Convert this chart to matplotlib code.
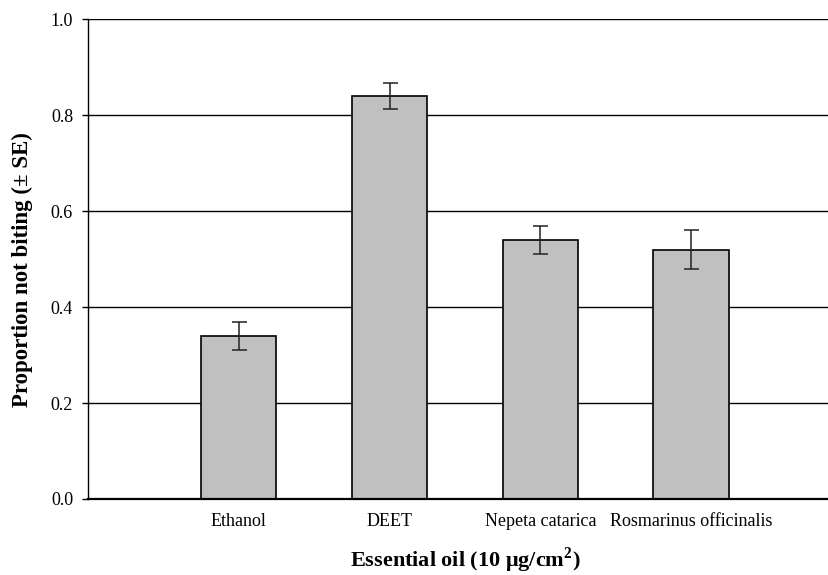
import matplotlib.pyplot as plt

# data
oils = ["Ethanol", "DEET", "Nepeta catarica", "Rosmarinus officinalis"]
proportion = [0.34, 0.84, 0.54, 0.52]
se = [0.03, 0.027, 0.03, 0.04]
yticks = [0.0, 0.2, 0.4, 0.6, 0.8, 1.0]

plt.rcParams["font.family"] = ["Liberation Serif", "DejaVu Serif"]
plt.rcParams["mathtext.fontset"] = "custom"
plt.rcParams["mathtext.rm"] = "Liberation Serif"
plt.rcParams["mathtext.bf"] = "Liberation Serif:bold"

fig = plt.figure(figsize=(8.29, 5.75), dpi=100)
ax = fig.add_axes([0.1062, 0.1322, 0.8938, 0.8339])

x = list(range(1, len(oils) + 1))

# gridlines behind bars
for v in yticks[1:]:
  ax.axhline(v, color="black", lw=1, zorder=0)

ax.bar(x, proportion, width=0.5, color="#c0c0c0", edgecolor="black", lw=1.2, zorder=2)
ax.errorbar(x, proportion, yerr=se, fmt="none", ecolor="#222222", elinewidth=1.1,
            capsize=5.4, capthick=1.1, zorder=3)

ax.set_xlim(0, 4.915)
ax.set_ylim(0, 1.0)
ax.set_xticks(x)
ax.set_xticklabels(oils, fontsize=13)
ax.tick_params(axis="x", length=0, pad=10)
ax.set_yticks(yticks)
ax.set_yticklabels(["%.1f" % v for v in yticks], fontsize=13)
ax.tick_params(axis="y", direction="out", length=4.3, width=1, pad=6.5)

ax.spines["top"].set_visible(False)
ax.spines["right"].set_visible(False)
ax.spines["left"].set_linewidth(1)
ax.spines["bottom"].set_linewidth(1.6)

ax.set_xlabel("Essential oil (10 $\\mathbf{\\mu}$g/cm$^\\mathbf{2}$)", fontsize=16,
              fontweight="bold")
ax.set_ylabel("Proportion not biting (± SE)", fontsize=16.5, fontweight="bold")
ax.xaxis.set_label_coords(0.509, -0.097)
ax.yaxis.set_label_coords(-0.0742, 0.4776)

plt.savefig("out.png", dpi=100)
plt.close()
